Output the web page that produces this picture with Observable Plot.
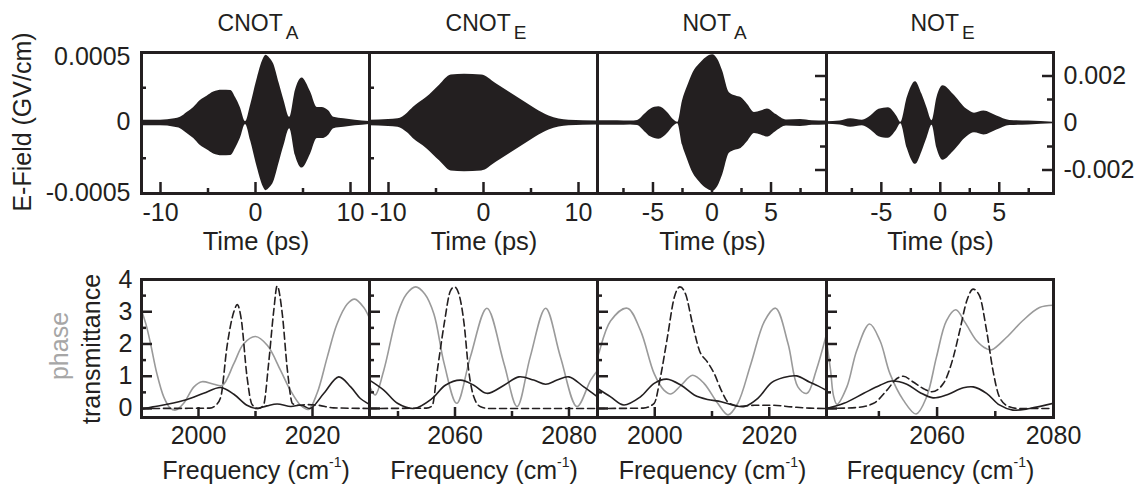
<!DOCTYPE html>
<html><head><meta charset="utf-8">
<script src="https://cdn.jsdelivr.net/npm/d3@7"></script>
<script src="https://cdn.jsdelivr.net/npm/@observablehq/plot@0.6"></script>
<style>
body{margin:0;background:#fff;}
#wrap{position:relative;width:1142px;height:489px;overflow:hidden;}
</style></head><body><div id="wrap"></div>
<script>
// ---------------- DATA ----------------
const panelNames = ["CNOT", "CNOT", "NOT", "NOT"];
const panelSubs = ["A", "E", "A", "E"];

// time-domain scale ranges (ps) and field ranges (GV/cm)
const timeDomains = [[-12, 12], [-12, 12], [-9.7, 9.7], [-9.65, 9.6]];
const fieldDomainLeft = [-0.0005, 0.0005];
const fieldDomainRight = [-0.003, 0.003];
const freqDomains = [[1990, 2030], [2045, 2085], [1990, 2030], [2041, 2080]];
const specDomain = [-0.28, 4];

// tick values / labels
const timeLabels = [[-10, 0, 10], [-10, 0, 10], [-5, 0, 5], [-5, 0, 5]];
const timeMinor = [[-5, 5], [-5, 5], [-7.5, -2.5, 2.5, 7.5], [-7.5, -2.5, 2.5, 7.5]];
const fieldLeftLabels = [-0.0005, 0, 0.0005];
const fieldLeftMinor = [-0.00025, 0.00025];
const fieldRightLabels = [-0.002, 0, 0.002];
const fieldRightMinor = [-0.001, 0.001];
const freqLabels = [[2000, 2020], [2060, 2080], [2000, 2020], [2060, 2080]];
const freqMinor = [[2010], [2050, 2070], [2010], [2050, 2070]];
const specLabels = [0, 1, 2, 3, 4];
const specMajor = [0, 1, 2, 3];
const specMinor = [0.5, 1.5, 2.5, 3.5];

// E-field envelopes [time ps, amplitude GV/cm]
const cnotA_env = [[-12,0.00002],[-10,0.00002],[-8.5,0.00003],[-7.9,0.00004],[-7.2,0.000074],[-6.5,0.00011],[-5.8,0.00016],[-5.1,0.00019],[-4.4,0.00022],[-3.5,0.000233],[-2.6,0.00023],[-2.1,0.00018],[-1.6,0.00011],[-1.05,0.00001],[-0.5,0.00013],[0.2,0.00032],[0.8,0.00045],[1.1,0.00048],[1.5,0.00046],[1.9,0.00042],[2.5,0.00028],[3.0,0.00016],[3.6,0.00004],[4.2,0.00023],[4.9,0.00032],[5.8,0.00022],[6.5,0.00011],[7.0,0.00011],[7.7,0.000086],[8.25,0.00004],[9.3,0.00003],[10.5,0.00002],[12,0.00001]];
const cnotE_env = [[-12,0.00002],[-10,0.000025],[-9,0.00003],[-8,0.00007],[-7.4,0.00011],[-6,0.00018],[-4.6,0.00027],[-3.4,0.00034],[-2,0.000345],[-0.2,0.00034],[1.3,0.00028],[2.7,0.00022],[4.1,0.00016],[5.5,0.0001],[6.9,0.00005],[9,0.00002],[12,0.000015]];
const notA_env = [[-9.7,0.0001],[-8,0.0001],[-6.9,0.00008],[-6.3,0.00011],[-5.7,0.00037],[-5.2,0.00059],[-4.5,0.00069],[-3.75,0.00044],[-3.3,0.00016],[-2.9,0.00003],[-2.5,0.00094],[-2.06,0.00157],[-1.6,0.00214],[-1.07,0.0025],[-0.5,0.00278],[0.06,0.0029],[0.48,0.00271],[0.9,0.00221],[1.47,0.00129],[2.03,0.00115],[2.46,0.00108],[3.0,0.0008],[3.6,0.00045],[4.15,0.00051],[4.7,0.0006],[5.4,0.00037],[6.3,0.00013],[7.5,0.00015],[8.5,0.0001],[9.7,0.00008]];
const notE_env = [[-9.65,0.00005],[-8.5,0.00008],[-7.6,0.00018],[-6.6,0.00012],[-5.9,0.0003],[-5.2,0.00058],[-4.4,0.00065],[-3.7,0.0003],[-3.35,0.00003],[-2.8,0.00108],[-2.1,0.00176],[-1.55,0.00122],[-1.13,0.00065],[-0.7,0.0001],[-0.28,0.00108],[0.23,0.00158],[1.1,0.00122],[2.26,0.00058],[2.9,0.00042],[3.7,0.00051],[4.8,0.0003],[5.9,0.00011],[7.5,0.00008],[9.6,0.00003]];
const envelopes = [cnotA_env, cnotE_env, notA_env, notE_env];

// spectra [frequency cm-1, value]
const cnotA_phase = [[1990,3.05],[1990.8,2.6],[1991.6,2.0],[1992.7,1.08],[1993.9,0.36],[1995,0.02],[1996,-0.05],[1997.4,0.16],[1999.2,0.67],[2000.6,0.83],[2002.7,0.75],[2004.2,0.72],[2006.2,1.39],[2007.9,2.0],[2010,2.23],[2012.1,1.95],[2014.4,1.18],[2016.1,0.57],[2017.9,0.1],[2019.3,-0.03],[2020.8,0.47],[2022.6,1.6],[2024.3,2.62],[2026.1,3.24],[2027.4,3.39],[2029,3.13],[2030,2.8]];
const cnotA_trans = [[1990,-0.02],[1992,0.05],[1994.5,0.13],[1998,0.28],[2000.9,0.47],[2003.9,0.65],[2006.2,0.44],[2008.5,0.1],[2010.2,0.0],[2012,0.08],[2013.8,0.14],[2016.2,0.06],[2017.6,0.1],[2018.3,0.09],[2019.6,0.0],[2022,0.47],[2024.6,0.98],[2026.7,0.67],[2028.4,0.31],[2030,0.13]];
const cnotA_dash = [[1990,0],[2002,0.01],[2002.9,0.08],[2003.9,0.35],[2005,1.92],[2006.2,3.0],[2006.8,3.22],[2007.5,2.77],[2008.5,1.0],[2009.4,0.12],[2010.5,0],[2011.4,0.1],[2012.3,1.39],[2013.2,3.03],[2013.8,3.8],[2014.7,2.93],[2015.6,1.18],[2016.5,0.15],[2017.5,0.1],[2019,0.12],[2021,0.1],[2023.7,0.02],[2030,0]];

const cnotE_phase = [[2045,0.7],[2046,0.42],[2047.5,1.18],[2049.9,2.93],[2051.5,3.55],[2053.1,3.77],[2054.7,3.55],[2056.3,2.93],[2058.1,1.39],[2060.3,0.16],[2062.7,1.6],[2065.6,3.11],[2068.6,1.39],[2070.9,0.06],[2073.2,1.6],[2075.9,3.11],[2078.5,1.6],[2081.4,0.06],[2083.8,0.88],[2085,1.18]];
const cnotE_trans = [[2045,0.88],[2047.5,0.57],[2049.9,0.16],[2052.8,0.0],[2056,0.31],[2058.3,0.72],[2061,0.88],[2063.3,0.72],[2065.6,0.47],[2068.6,0.72],[2071.2,0.98],[2073.8,0.88],[2075.9,0.75],[2077.9,0.88],[2080,0.98],[2082.6,0.67],[2085,0.36]];
const cnotE_dash = [[2045,0],[2055,0.01],[2056,0.08],[2056.9,1.18],[2058.1,2.62],[2059.2,3.65],[2059.9,3.77],[2060.7,3.54],[2061.6,2.62],[2062.4,1.18],[2063.3,0.36],[2064.5,0.05],[2066,0],[2085,0]];

const notA_phase = [[1990,1.6],[1990.2,1.7],[1992.3,2.72],[1995.2,3.11],[1997.5,2.42],[1999.9,1.08],[2001.6,0.57],[2002.8,0.45],[2004.6,0.72],[2006.6,1.03],[2008.6,0.78],[2011,0.16],[2012.8,-0.2],[2014.5,0.16],[2016.8,1.39],[2019.2,2.72],[2021.1,3.11],[2023.3,2.0],[2025,0.67],[2026.6,0.47],[2028.2,1.18],[2030,2.3]];
const notA_trans = [[1990,0.62],[1992.3,0.36],[1994.6,0.11],[1997.5,0.36],[1999.9,0.78],[2002.1,0.91],[2004.6,0.72],[2006.9,0.42],[2009.2,0.28],[2011.6,0.21],[2013.9,0.09],[2015.7,0.06],[2018,0.31],[2020.4,0.8],[2022.5,0.96],[2024.8,1.01],[2027,0.82],[2028.5,0.7],[2030,0.56]];
const notA_dash = [[1990,0],[1998,0.01],[1999.9,0.16],[2001,0.98],[2002.2,2.2],[2003.4,3.44],[2004.4,3.77],[2005.4,3.54],[2006.6,2.62],[2007.8,1.8],[2009.2,1.44],[2010.4,1.08],[2011.6,0.57],[2013,0.16],[2015.1,0.07],[2017.5,0.1],[2020.6,0.1],[2023.9,0.05],[2027,0.01],[2030,0]];

const notE_phase = [[2041,2.1],[2041.7,1.18],[2042.2,0.4],[2042.8,0.13],[2044.5,0.67],[2046.2,1.8],[2048.4,2.62],[2050.2,2.1],[2051.9,1.08],[2054.2,0.26],[2056.4,-0.17],[2058.2,0.36],[2059.9,1.6],[2061.6,2.72],[2063.2,3.06],[2064.8,2.67],[2066.8,2.1],[2068.5,1.85],[2069.4,1.82],[2071.9,2.2],[2074.7,2.72],[2077.6,3.13],[2080,3.2]];
const notE_trans = [[2041,0.0],[2044,0.16],[2047.4,0.47],[2050.2,0.72],[2052.2,0.85],[2054.8,0.75],[2057.1,0.49],[2059.3,0.33],[2061.6,0.42],[2064.5,0.64],[2066.2,0.67],[2068.5,0.47],[2070.7,0.11],[2073,-0.05],[2075.9,0.0],[2080,0.16]];
const notE_dash = [[2041,0],[2046.2,0.03],[2049.1,0.16],[2051.4,0.57],[2053.1,0.93],[2054.2,1.0],[2055.9,0.82],[2057.6,0.62],[2059.1,0.52],[2061.1,0.78],[2062.8,1.6],[2063.9,2.42],[2065.1,3.34],[2066.2,3.7],[2067.3,3.49],[2068.5,2.42],[2069.6,1.18],[2070.7,0.36],[2072.4,0.05],[2074,0],[2080,0]];

const phaseSeries = [cnotA_phase, cnotE_phase, notA_phase, notE_phase];
const transSeries = [cnotA_trans, cnotE_trans, notA_trans, notE_trans];
const dashSeries = [cnotA_dash, cnotE_dash, notA_dash, notE_dash];

// ---------------- LAYOUT / STYLE ----------------
const FONT = "'Liberation Sans', Arial, Helvetica, sans-serif";
const INK = "#231f20";
const GREY = "#9a9a9a";
const xEdges = [141, 369, 597, 826, 1053];
const topRow = [52, 193];
const botRow = [279, 417];
const wrap = document.getElementById("wrap");
const fmt = d => String(d);

function place(svg, left, top, w, h) {
  const d = document.createElement("div");
  d.style.cssText = `position:absolute;left:${left}px;top:${top}px;width:${w}px;height:${h}px;`;
  d.appendChild(svg);
  wrap.appendChild(d);
}
const plotStyle = {fontFamily: FONT, fontSize: "25px", color: INK, background: "transparent", overflow: "visible"};

function topPanel(i) {
  const W = xEdges[i + 1] - xEdges[i], H = topRow[1] - topRow[0];
  const mL = i === 0 ? 140 : 10, mR = i === 3 ? 100 : 10, mT = 10, mB = 45;
  const right = i >= 2;
  const env = envelopes[i].map(([t, a]) => ({t, a}));
  const marks = [
    Plot.areaY(env, {x: "t", y1: d => -d.a, y2: d => d.a, fill: INK, curve: "monotone-x"}),
    Plot.tickX(timeLabels[i], {x: d => d, insetTop: H - 11, stroke: INK, strokeWidth: 2.5}),
    Plot.tickX(timeMinor[i], {x: d => d, insetTop: H - 5, stroke: INK, strokeWidth: 2.5}),
    Plot.axisX(timeLabels[i], {tickSize: 0, tickPadding: 10, tickFormat: fmt, label: null})
  ];
  if (!right) {
    marks.push(Plot.tickY(fieldLeftMinor, {y: d => d, insetRight: W - 5, stroke: INK, strokeWidth: 2.5}));
  } else {
    marks.push(Plot.tickY(fieldRightLabels.filter(d => d !== 0), {y: d => d, insetLeft: W - 11, stroke: INK, strokeWidth: 2.5}));
    marks.push(Plot.tickY(fieldRightMinor, {y: d => d, insetLeft: W - 6, stroke: INK, strokeWidth: 2.5}));
  }
  if (i === 0) {
    marks.push(Plot.axisY(fieldLeftLabels.filter(d => d > 0), {anchor: "left", tickSize: 0, tickPadding: 11, tickFormat: fmt, label: null, dy: 4}));
    marks.push(Plot.axisY(fieldLeftLabels.filter(d => d <= 0), {anchor: "left", tickSize: 0, tickPadding: 11, tickFormat: fmt, label: null, dy: -1}));
  }
  if (i === 3) marks.push(Plot.axisY(fieldRightLabels, {anchor: "right", tickSize: 0, tickPadding: 10, tickFormat: fmt, label: null}));
  marks.push(Plot.frame({stroke: INK, strokeWidth: 3}));
  const yOpt = {domain: right ? fieldDomainRight : fieldDomainLeft, label: null};
  if (i !== 0 && i !== 3) yOpt.axis = null;
  const svg = Plot.plot({
    width: W + mL + mR, height: H + mT + mB,
    marginLeft: mL, marginRight: mR, marginTop: mT, marginBottom: mB,
    x: {domain: timeDomains[i], label: null},
    y: yOpt,
    style: plotStyle,
    marks
  });
  place(svg, xEdges[i] - mL, topRow[0] - mT, W + mL + mR, H + mT + mB);
}

function botPanel(i) {
  const W = xEdges[i + 1] - xEdges[i], H = botRow[1] - botRow[0];
  const mL = i === 0 ? 140 : 10, mR = 40, mT = 10, mB = 45;
  const marks = [
    Plot.line(phaseSeries[i], {x: d => d[0], y: d => d[1], stroke: GREY, strokeWidth: 1.6, curve: "catmull-rom", clip: true}),
    Plot.line(transSeries[i], {x: d => d[0], y: d => d[1], stroke: INK, strokeWidth: 1.6, curve: "catmull-rom", clip: true}),
    Plot.line(dashSeries[i], {x: d => d[0], y: d => d[1], stroke: INK, strokeWidth: 1.6, strokeDasharray: "7,4", curve: "monotone-x", clip: true}),
    Plot.tickX(freqLabels[i], {x: d => d, insetTop: H - 10, stroke: INK, strokeWidth: 2.5}),
    Plot.tickX(freqMinor[i], {x: d => d, insetTop: H - 6, stroke: INK, strokeWidth: 2.5}),
    Plot.tickY(specMajor, {y: d => d, insetRight: W - 11, stroke: INK, strokeWidth: 2.5}),
    Plot.tickY(specMinor, {y: d => d, insetRight: W - 5, stroke: INK, strokeWidth: 2.5}),
    Plot.axisX(freqLabels[i], {tickSize: 0, tickPadding: 9, tickFormat: fmt, label: null})
  ];
  if (i === 0) marks.push(Plot.axisY(specLabels, {anchor: "left", tickSize: 0, tickPadding: 9, tickFormat: fmt, label: null}));
  marks.push(Plot.frame({stroke: INK, strokeWidth: 3}));
  const yOpt = {domain: specDomain, label: null};
  if (i !== 0) yOpt.axis = null;
  const svg = Plot.plot({
    width: W + mL + mR, height: H + mT + mB,
    marginLeft: mL, marginRight: mR, marginTop: mT, marginBottom: mB,
    x: {domain: freqDomains[i], label: null},
    y: yOpt,
    style: plotStyle,
    marks
  });
  place(svg, xEdges[i] - mL, botRow[0] - mT, W + mL + mR, H + mT + mB);
}

for (let i = 0; i < 4; i++) { topPanel(i); botPanel(i); }

// ---------------- TEXT OVERLAY ----------------
const ov = d3.select(wrap).append("svg")
  .attr("width", 1142).attr("height", 489)
  .style("position", "absolute").style("left", "0px").style("top", "0px")
  .style("pointer-events", "none")
  .attr("font-family", FONT).attr("fill", INK);

for (let i = 0; i < 4; i++) {
  const cx = (xEdges[i] + xEdges[i + 1]) / 2;
  const t = ov.append("text").attr("x", cx + 3).attr("y", 31).attr("text-anchor", "middle").attr("font-size", 23);
  t.append("tspan").text(panelNames[i]);
  t.append("tspan").attr("dx", 3).attr("dy", 7.5).attr("font-size", 19).text(panelSubs[i]);
  ov.append("text").attr("x", cx + 1).attr("y", 250).attr("text-anchor", "middle").attr("font-size", 25.5).text("Time (ps)");
  const f = ov.append("text").attr("x", cx + 1).attr("y", 479).attr("text-anchor", "middle").attr("font-size", 25);
  f.append("tspan").text("Frequency (cm");
  f.append("tspan").attr("dy", -12).attr("font-size", 14).text("-1");
  f.append("tspan").attr("dy", 12).text(")");
}
ov.append("text").attr("transform", "translate(31,122) rotate(-90)").attr("text-anchor", "middle").attr("font-size", 25).text("E-Field (GV/cm)");
ov.append("text").attr("transform", "translate(68,346) rotate(-90)").attr("text-anchor", "middle").attr("font-size", 25).attr("fill", "#a6a6a6").text("phase");
ov.append("text").attr("transform", "translate(100,349) rotate(-90)").attr("text-anchor", "middle").attr("font-size", 25).text("transmittance");
</script></body></html>
